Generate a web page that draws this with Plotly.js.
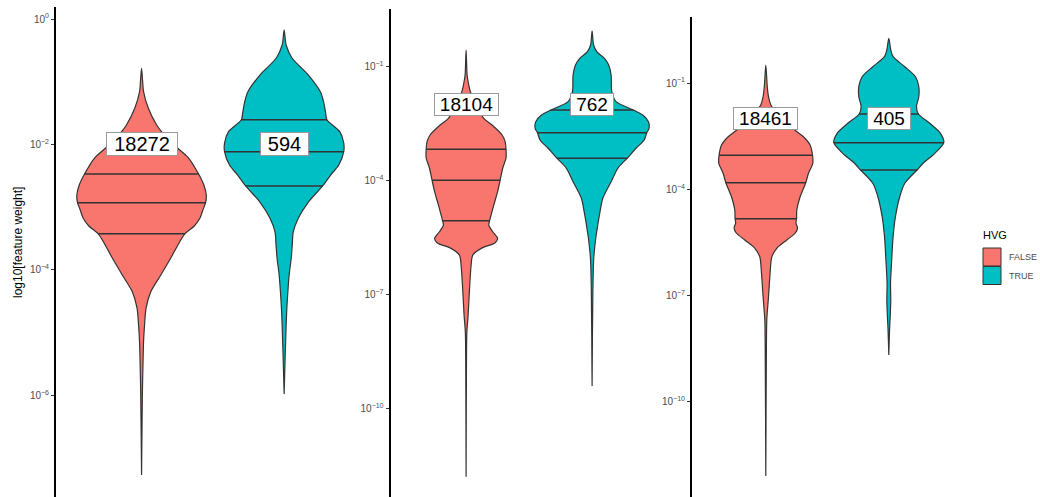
<!DOCTYPE html>
<html><head><meta charset="utf-8">
<script src="https://cdn.plot.ly/plotly-3.0.1.min.js"></script>
<style>html,body{margin:0;padding:0;background:#fff}#chart{width:1040px;height:497px}</style>
</head><body><div id="chart"></div>
<script>
// ---------------- DATA ----------------
const groups = ["FALSE", "TRUE"];
const groupColors = ["#F8766D", "#00BFC4"];
const legendTitle = "HVG";
const yTitle = "log10[feature weight]";

// Panel 1: violin outlines (log10 of feature weight, half-width of density in x units)
const p1FalseLog   = [-0.786,-0.973,-1.159,-1.419,-1.691,-1.797,-1.994,-2.217,-2.472,-2.648,-2.807,-2.930,-3.046,-3.174,-3.301,-3.424,-3.604,-3.812,-4.083,-4.354,-4.609,-4.880,-5.151,-5.407,-5.949,-7.273];
const p1FalseWidth = [0,0.007,0.014,0.047,0.106,0.14,0.22,0.33,0.40,0.437,0.454,0.449,0.43,0.41,0.37,0.305,0.255,0.205,0.135,0.064,0.032,0.021,0.014,0.011,0.006,0];
const p1TrueLog    = [-0.175,-0.415,-0.622,-0.893,-1.164,-1.324,-1.483,-1.606,-1.797,-1.978,-2.116,-2.329,-2.488,-2.663,-2.919,-3.174,-3.397,-3.604,-3.812,-4.083,-4.354,-4.609,-4.880,-5.407,-5.980];
const p1TrueWidth  = [0,0.014,0.055,0.17,0.255,0.277,0.29,0.30,0.39,0.418,0.418,0.383,0.326,0.27,0.17,0.10,0.064,0.057,0.05,0.035,0.026,0.019,0.014,0.007,0];
const p1FalseQuart = [-2.472,-2.930,-3.424];
const p1TrueQuart  = [-1.606,-2.116,-2.663];
const p1Counts = [18272, 594];

// Panel 2
const p2FalseLog   = [-0.553,-1.211,-1.474,-1.650,-2.000,-2.350,-2.526,-2.789,-2.966,-3.166,-3.395,-3.658,-3.982,-4.280,-4.630,-5.070,-5.160,-5.330,-5.510,-5.630,-5.760,-5.950,-6.210,-6.910,-7.530,-7.970,-8.710,-11.780];
const p2FalseWidth = [0,0.008,0.021,0.034,0.08,0.14,0.206,0.286,0.31,0.317,0.317,0.291,0.27,0.25,0.22,0.185,0.18,0.21,0.25,0.228,0.127,0.053,0.04,0.026,0.016,0.006,0.003,0];
const p2TrueLog    = [-0.053,-0.421,-0.597,-0.771,-0.947,-1.211,-1.650,-1.913,-2.132,-2.263,-2.439,-2.613,-2.729,-2.921,-3.139,-3.403,-3.666,-4.018,-4.455,-4.808,-5.158,-5.508,-6.034,-6.913,-9.395];
const p2TrueWidth  = [0,0.012,0.037,0.098,0.132,0.151,0.156,0.19,0.328,0.402,0.447,0.452,0.434,0.413,0.349,0.278,0.204,0.151,0.085,0.063,0.045,0.029,0.013,0.006,0];
const p2FalseQuart = [-3.166,-3.982,-5.045];
const p2TrueQuart  = [-2.132,-2.729,-3.403];
const p2Counts = [18104, 762];

// Panel 3
const p3FalseLog   = [-0.492,-1.105,-1.387,-1.621,-1.960,-2.328,-2.517,-2.751,-3.042,-3.268,-3.551,-3.816,-4.212,-4.588,-4.833,-4.955,-5.096,-5.237,-5.435,-5.669,-5.907,-6.376,-7.037,-7.695,-8.449,-12.100];
const p3FalseWidth = [0,0.012,0.022,0.041,0.12,0.236,0.306,0.36,0.38,0.382,0.347,0.325,0.279,0.252,0.25,0.245,0.258,0.24,0.171,0.089,0.049,0.035,0.022,0.008,0.005,0];
const p3TrueLog    = [0.263,-0.068,-0.257,-0.540,-0.822,-1.105,-1.387,-1.669,-1.876,-2.138,-2.421,-2.686,-2.986,-3.268,-3.458,-3.833,-4.212,-4.777,-5.342,-6.093,-6.658,-7.130,-7.550,-7.977,-8.684];
const p3TrueWidth  = [0,0.016,0.035,0.13,0.217,0.244,0.244,0.225,0.241,0.333,0.42,0.447,0.374,0.279,0.23,0.13,0.089,0.054,0.035,0.022,0.014,0.016,0.012,0.006,0];
const p3FalseQuart = [-3.042,-3.816,-4.833];
const p3TrueQuart  = [-1.876,-2.686,-3.458];
const p3Counts = [18461, 405];

const p1TickExp  = [0,-2,-4,-6];
const p23TickExp = [-1,-4,-7,-10];

// ---------------- DRAWING ----------------
const W = 1040, H = 497;
const panels = [
  {fl:p1FalseLog, fw:p1FalseWidth, tl:p1TrueLog, tw:p1TrueWidth, fq:p1FalseQuart, tq:p1TrueQuart, counts:p1Counts, ticks:p1TickExp,
   xpx:[56, 369.7], top:7.3, yr:[-7.624, 0.187], lf:20, lp:10},
  {fl:p2FalseLog, fw:p2FalseWidth, tl:p2TrueLog, tw:p2TrueWidth, fq:p2FalseQuart, tq:p2TrueQuart, counts:p2Counts, ticks:p23TickExp,
   xpx:[390.5, 667.7], top:9.3, yr:[-12.316, 0.518], lf:19, lp:6},
  {fl:p3FalseLog, fw:p3FalseWidth, tl:p3TrueLog, tw:p3TrueWidth, fq:p3FalseQuart, tq:p3TrueQuart, counts:p3Counts, ticks:p23TickExp,
   xpx:[692, 962.6], top:17.3, yr:[-12.695, 0.856], lf:19, lp:6}
];

function interpWidth(logs, widths, q) {
  for (let i = 0; i < logs.length - 1; i++) {
    const a = logs[i], b = logs[i+1];
    if ((q <= a && q >= b)) {
      const t = (a - q) / (a - b);
      return widths[i] + t * (widths[i+1] - widths[i]);
    }
  }
  return 0;
}
function supText(e) {
  return "10<sup>" + (e < 0 ? "\u2212" + (-e) : e) + "</sup>";
}

const traces = [];
const annotations = [];
const layout = {
  width: W, height: H,
  margin: {l:0, r:0, t:0, b:0},
  paper_bgcolor: "#fff", plot_bgcolor: "rgba(0,0,0,0)",
  showlegend: false,
  font: {family: "Liberation Sans, Arial, sans-serif"},
  shapes: [],
  annotations: annotations
};

panels.forEach((p, k) => {
  const n = k === 0 ? "" : String(k + 1);
  const xa = "x" + n, ya = "y" + n;
  layout["xaxis" + n] = {
    domain: [p.xpx[0] / W, p.xpx[1] / W], range: [0.4, 2.6],
    visible: false, fixedrange: true, anchor: ya
  };
  layout["yaxis" + n] = {
    domain: [0, 1 - p.top / H], type: "log", range: p.yr, anchor: xa,
    showgrid: false, zeroline: false,
    showline: true, linecolor: "#000", linewidth: 2,
    ticks: "outside", ticklen: 3, tickwidth: 1, tickcolor: "#333",
    tickvals: p.ticks.map(e => Math.pow(10, e)),
    ticktext: p.ticks.map(supText),
    tickfont: {size: 10, color: "#4D4D4D", family: "Liberation Sans, Arial, sans-serif"}
  };
  const sets = [[p.fl, p.fw, p.fq], [p.tl, p.tw, p.tq]];
  sets.forEach((s, g) => {
    const c = g + 1;
    const logs = s[0], wid = s[1];
    const xs = [], ys = [];
    for (let i = 0; i < logs.length; i++) { xs.push(c - wid[i]); ys.push(Math.pow(10, logs[i])); }
    for (let i = logs.length - 1; i >= 0; i--) { xs.push(c + wid[i]); ys.push(Math.pow(10, logs[i])); }
    traces.push({
      type: "scatter", mode: "lines", x: xs, y: ys, xaxis: xa, yaxis: ya,
      fill: "toself", fillcolor: groupColors[g],
      line: {color: "#333333", width: 1.2, shape: "spline", smoothing: 0.8},
      hoverinfo: "skip"
    });
    const qx = [], qy = [];
    s[2].forEach(q => {
      const w = interpWidth(logs, wid, q);
      qx.push(c - w, c + w, null);
      qy.push(Math.pow(10, q), Math.pow(10, q), null);
    });
    traces.push({
      type: "scatter", mode: "lines", x: qx, y: qy, xaxis: xa, yaxis: ya,
      line: {color: "#333333", width: 1.6}, hoverinfo: "skip"
    });
    const label = String(p.counts[g]);
    annotations.push({
      xref: xa, yref: ya, x: c, y: -2, text: label, showarrow: false,
      font: {size: p.lf, color: "#000", family: "Liberation Sans, Arial, sans-serif"},
      bgcolor: "#fff", bordercolor: "#9a9a9a", borderwidth: 1, borderpad: 2,
      height: p.lf - 2, width: Math.round(label.length * p.lf * 0.556 + p.lp),
      xanchor: "center", yanchor: "middle"
    });
  });
});

// y axis title (panel 1 only)
annotations.push({
  xref: "paper", yref: "paper", x: 18 / W, y: 1 - 243 / H, text: yTitle, textangle: -90,
  showarrow: false, font: {size: 12, color: "#000"}, xanchor: "center", yanchor: "middle"
});

// legend (HVG)
annotations.push({
  xref: "paper", yref: "paper", x: 981 / W, y: 1 - 235 / H, text: legendTitle, showarrow: false,
  font: {size: 11, color: "#000"}, xanchor: "left", yanchor: "middle"
});
groups.forEach((g, i) => {
  const top = 248 + i * 18.5;
  layout.shapes.push({
    type: "rect", xref: "paper", yref: "paper",
    x0: 983 / W, x1: 1001 / W, y0: 1 - top / H, y1: 1 - (top + 18) / H,
    fillcolor: groupColors[i], line: {color: "#333333", width: 1}
  });
  annotations.push({
    xref: "paper", yref: "paper", x: 1007 / W, y: 1 - (top + 9) / H, text: g, showarrow: false,
    font: {size: 9, color: "#4D4D4D"}, xanchor: "left", yanchor: "middle"
  });
});

Plotly.newPlot("chart", traces, layout, {displayModeBar: false, staticPlot: true});
</script></body></html>
